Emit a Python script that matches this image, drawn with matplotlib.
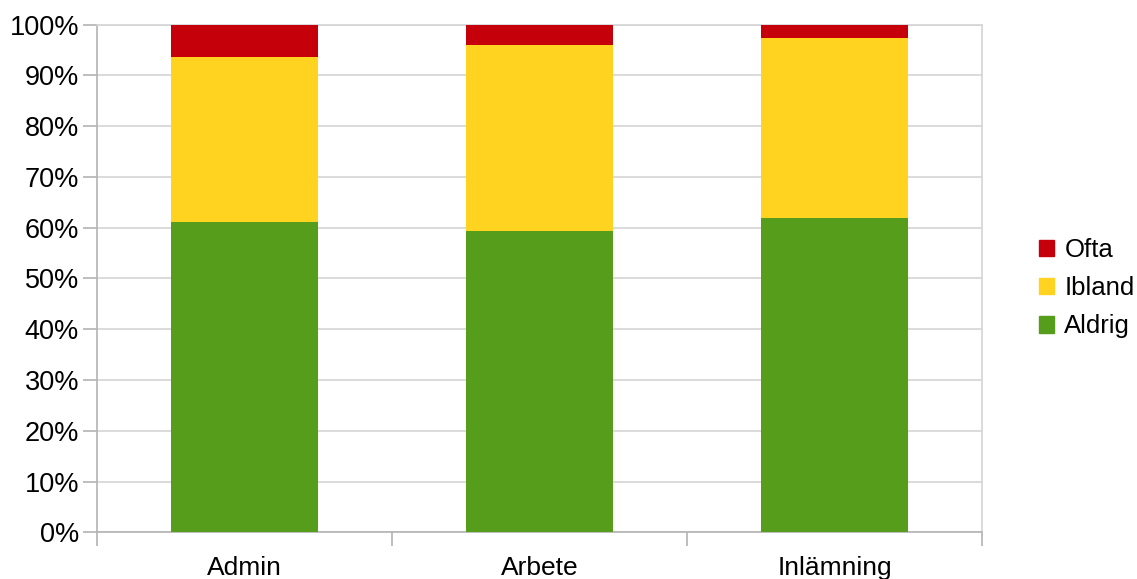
import matplotlib
matplotlib.use("Agg")
import matplotlib.pyplot as plt
import numpy as np
from matplotlib.patches import Patch

categories = ["Admin", "Arbete", "Inlämning"]
aldrig = [61.1, 59.4, 61.9]
ibland = [32.6, 36.7, 35.5]
ofta = [6.3, 3.9, 2.6]

colors = {"Aldrig": "#579d1c", "Ibland": "#ffd320", "Ofta": "#c5000b"}

plt.rcParams["font.family"] = ["Liberation Sans", "DejaVu Sans"]

fig = plt.figure(figsize=(11.37, 5.79), dpi=100)
ax = fig.add_axes([0.0853, 0.0807, 0.7784, 0.8766])

x = np.arange(len(categories))
w = 0.5
ax.bar(x, aldrig, w, color=colors["Aldrig"], zorder=3)
ax.bar(x, ibland, w, bottom=aldrig, color=colors["Ibland"], zorder=3)
ax.bar(x, ofta, w, bottom=np.add(aldrig, ibland), color=colors["Ofta"], zorder=3)

ax.set_xlim(-0.5, len(categories) - 0.5)
ax.set_ylim(0, 100)
ax.set_yticks(np.arange(0, 101, 10))
ax.set_yticklabels([f"{v}%" for v in range(0, 101, 10)])
ax.yaxis.grid(True, color="#d4d4d4", linewidth=1.2, zorder=0)

# category labels centred, tick marks at category boundaries
ax.set_xticks(x)
ax.set_xticklabels(categories)
ax.tick_params(axis="x", length=0, pad=17, labelsize=19)
ax.set_xticks(np.arange(-0.5, len(categories), 1.0), minor=True)
ax.tick_params(axis="x", which="minor", length=10, color="#b3b3b3", width=1.2)
ax.tick_params(axis="y", length=10, color="#b3b3b3", width=1.2, labelsize=19.5, pad=3)

for side in ["left", "bottom"]:
    ax.spines[side].set_color("#b3b3b3")
    ax.spines[side].set_linewidth(1.2)
for side in ["top", "right"]:
    ax.spines[side].set_color("#d4d4d4")
    ax.spines[side].set_linewidth(1.2)

handles = [Patch(color=colors[k]) for k in ["Ofta", "Ibland", "Aldrig"]]
fig.legend(handles, ["Ofta", "Ibland", "Aldrig"], loc="center left",
           bbox_to_anchor=(0.9135, 0.502), frameon=False, fontsize=18.5,
           handlelength=0.6, handleheight=0.6, handletextpad=0.4,
           labelspacing=0.55, borderaxespad=0, borderpad=0)

fig.savefig("out.png", dpi=100)
